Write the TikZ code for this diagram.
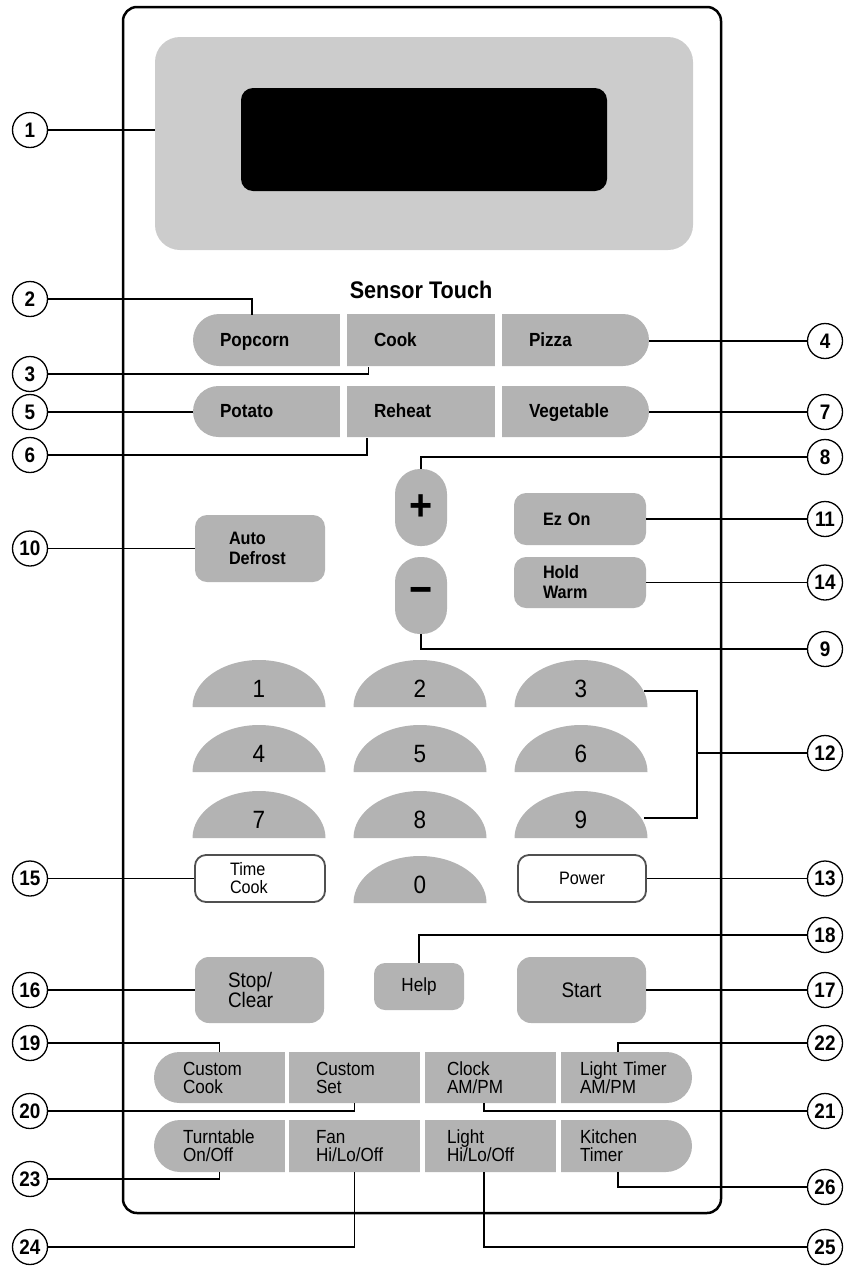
\documentclass[tikz,border=0pt]{standalone}
\usepackage{fontspec}
\setmainfont[FakeStretch=0.9]{Liberation Sans}
\usepackage{tikz}

\definecolor{dispgray}{HTML}{CCCCCC}
\definecolor{keygray}{HTML}{B3B3B3}
\definecolor{keyedge}{HTML}{505050}

\tikzset{
  numtag/.style={circle, draw, line width=1.3, minimum size=35, inner sep=0, fill=white,
    font=\fontsize{21}{21}\selectfont\bfseries},
  lead/.style={line width=1.3},
  sensorcell/.style={rectangle, inner ysep=0, inner xsep=27pt, text width=93pt,
    text height=14pt, text depth=3pt,
    minimum height=52, align=left, font=\fontsize{19}{21}\selectfont\bfseries},
  bcell/.style 2 args={rectangle, inner ysep=0, inner xsep=#1, text width=#2,
    minimum height=51, align=left, font=\fontsize{19}{18}\selectfont},
  graybtn/.style={rectangle, fill=keygray, rounded corners=12, inner ysep=0, align=left,
    font=\fontsize{18}{20}\selectfont\bfseries},
  pill/.style={rectangle, fill=keygray, rounded corners=25, minimum width=52, minimum height=77,
    inner sep=0, font=\fontsize{44}{44}\selectfont\bfseries},
  digit/.style={rectangle, inner sep=0, minimum width=133, minimum height=47,
    text height=27pt, text depth=0pt, font=\fontsize{25}{25}\selectfont},
  whitebtn/.style={rectangle, draw=keyedge, line width=1.8, fill=white, rounded corners=11,
    inner ysep=0, minimum height=47, font=\fontsize{18}{18}\selectfont},
  bigbtn/.style={rectangle, fill=keygray, rounded corners=14, inner ysep=0,
    font=\fontsize{21}{19}\selectfont}
}

\begin{document}
\begin{tikzpicture}[x=1pt,y=-1pt]
\useasboundingbox (0,0) rectangle (846,1267);

\node[rectangle, fill=dispgray, rounded corners=25, minimum width=538, minimum height=213, inner sep=0] (disp) at (424,143.5) {};
\node[rectangle, fill=black, rounded corners=12, minimum width=366, minimum height=103, inner sep=0] (screen) at (424,139.5) {};
\draw[line width=2.5, rounded corners=14] (123,7) rectangle (721,1213);

\node[font=\fontsize{24}{24}\selectfont\bfseries] (sensor) at (421,290) {Sensor Touch};

\fill[keygray, rounded corners=26] (193,314) rectangle (649,366);
\fill[keygray, rounded corners=25.5] (193,386) rectangle (649,437);
\fill[white] (340,310) rectangle (347,441);
\fill[white] (494.5,310) rectangle (501.5,441);
\node[sensorcell] (popcorn) at (266.5,341) {Popcorn};
\node[sensorcell] (cook) at (420.5,341) {Cook};
\node[sensorcell] (pizza) at (575.5,341) {Pizza};
\node[sensorcell, minimum height=51] (potato) at (266.5,412) {Potato};
\node[sensorcell, minimum height=51] (reheat) at (420.5,412) {Reheat};
\node[sensorcell, minimum height=51] (vegetable) at (575.5,412) {Vegetable};

\node[graybtn, inner xsep=34pt, text width=62pt, minimum height=67] (autodefrost) at (260,548.5) {Auto\\Defrost};
\node[pill] (plus) at (421,507.5) {+};
\node[pill] (minus) at (421,595.5) {−};
\node[graybtn, inner xsep=29pt, text width=74pt, minimum height=52] (ezon) at (580,519) {Ez On};
\node[graybtn, inner xsep=29pt, text width=74pt, minimum height=51] (holdwarm) at (580,582.5) {Hold\\Warm};

\foreach \d/\cx/\by in {1/259/707, 2/420/707, 3/581/707, 4/259/772, 5/420/772, 6/581/772,
                        7/259/838, 8/420/838, 9/581/838, 0/420/903} {
  \fill[keygray] (\cx-66.5,\by) arc[start angle=180, end angle=0, x radius=66.5pt, y radius=47pt] -- cycle;
  \node[digit] (k\d) at (\cx,\by-23.5) {\d};
}

\node[whitebtn, inner xsep=35pt, text width=60pt, align=left] (timecook) at (260,878.5) {Time\\Cook};
\node[whitebtn, minimum width=128, align=center] (power) at (582,878.5) {Power};

\node[bigbtn, inner xsep=33pt, text width=63pt, minimum height=66, align=left] (stop) at (259.5,990) {Stop/\\Clear};
\node[bigbtn, minimum width=90, minimum height=47, rounded corners=11, font=\fontsize{19}{19}\selectfont] (help) at (419,986.5) {Help};
\node[bigbtn, minimum width=129, minimum height=66] (start) at (581.5,990) {Start};

\fill[keygray, rounded corners=25.5] (154,1052) rectangle (692,1103);
\fill[keygray, rounded corners=26] (154,1120) rectangle (692,1172);
\foreach \g in {284.5,420,556} {
  \fill[white] (\g,1048) rectangle (\g+4.5,1176);
}
\node[bcell={29pt}{73pt}] (customcook) at (219.5,1077.5) {Custom\\Cook};
\node[bcell={27pt}{77pt}] (customset) at (354.5,1077.5) {Custom\\Set};
\node[bcell={22pt}{87pt}] (clock) at (490.5,1077.5) {Clock\\AM/PM};
\node[bcell={19pt}{93pt}] (lighttimer) at (626.5,1077.5) {Light Timer\\AM/PM};
\node[bcell={29pt}{73pt}, minimum height=52] (turntable) at (219.5,1146) {Turntable\\On/Off};
\node[bcell={27pt}{77pt}, minimum height=52] (fan) at (354.5,1146) {Fan\\Hi/Lo/Off};
\node[bcell={22pt}{87pt}, minimum height=52] (light) at (490.5,1146) {Light\\Hi/Lo/Off};
\node[bcell={19pt}{93pt}, minimum height=52] (kitchen) at (626.5,1146) {Kitchen\\Timer};

\node[numtag] (c1) at (30,130) {1};
\node[numtag] (c2) at (30,299) {2};
\node[numtag] (c3) at (30,374) {3};
\node[numtag] (c5) at (30,412) {5};
\node[numtag] (c6) at (30,455) {6};
\node[numtag] (c10) at (30,548.5) {10};
\node[numtag] (c15) at (30,878.5) {15};
\node[numtag] (c16) at (30,990) {16};
\node[numtag] (c19) at (30,1043) {19};
\node[numtag] (c20) at (30,1111) {20};
\node[numtag] (c23) at (30,1179) {23};
\node[numtag] (c24) at (30,1247) {24};
\node[numtag] (c4) at (825,341) {4};
\node[numtag] (c7) at (825,412) {7};
\node[numtag] (c8) at (825,457) {8};
\node[numtag] (c11) at (825,519) {11};
\node[numtag] (c14) at (825,582.5) {14};
\node[numtag] (c9) at (825,649) {9};
\node[numtag] (c12) at (825,753) {12};
\node[numtag] (c13) at (825,878.5) {13};
\node[numtag] (c18) at (825,935) {18};
\node[numtag] (c17) at (825,990) {17};
\node[numtag] (c22) at (825,1043) {22};
\node[numtag] (c21) at (825,1111) {21};
\node[numtag] (c26) at (825,1187) {26};
\node[numtag] (c25) at (825,1247) {25};
\coordinate (brk) at (697,753);

\draw[lead] (c1) -- (c1 -| disp.west);
\draw[lead] (c2) -| ([xshift=-14.5pt]popcorn.north);
\draw[lead] (c3) -| ([xshift=-52pt]cook.south);
\draw[lead] (c5) -- (c5 -| potato.west);
\draw[lead] (c6) -| ([xshift=-53.5pt]reheat.south);
\draw[lead] (c10) -- (c10 -| autodefrost.west);
\draw[lead] (c15) -- (c15 -| timecook.west);
\draw[lead] (c16) -- (c16 -| stop.west);
\draw[lead] (c19) -| (customcook.north);
\draw[lead] (c20) -| (customset.south);
\draw[lead] (c23) -| (turntable.south);
\draw[lead] (c24) -| (fan.south);
\draw[lead] (c4) -- (c4 -| pizza.east);
\draw[lead] (c7) -- (c7 -| vegetable.east);
\draw[lead] (c8) -| (plus.north);
\draw[lead] (c11) -- (c11 -| ezon.east);
\draw[lead] (c14) -- (c14 -| holdwarm.east);
\draw[lead] (c9) -| (minus.south);
\draw[lead] ([xshift=-4pt,yshift=-7.5pt]k3.east) -| (brk) |- ([xshift=-4pt,yshift=-3.5pt]k9.east);
\draw[lead] (brk) -- (c12);
\draw[lead] (c13) -- (c13 -| power.east);
\draw[lead] (c18) -| (help.north);
\draw[lead] (c17) -- (c17 -| start.east);
\draw[lead] (c22) -| ([xshift=-8.5pt]lighttimer.north);
\draw[lead] (c21) -| ([xshift=-6.5pt]clock.south);
\draw[lead] (c26) -| ([xshift=-8.5pt]kitchen.south);
\draw[lead] (c25) -| ([xshift=-6.5pt]light.south);
\end{tikzpicture}
\end{document}
